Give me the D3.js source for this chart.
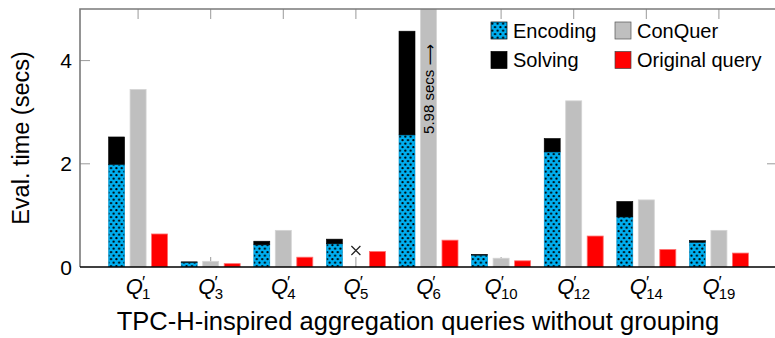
<!DOCTYPE html>
<html>
<head>
<meta charset="utf-8">
<script src="https://cdn.jsdelivr.net/npm/d3@7"></script>
<style>
  body { margin: 0; background: #fff; }
  svg { display: block; font-family: "Liberation Sans", Arial, sans-serif; }
</style>
</head>
<body>
<svg width="775" height="338"></svg>
<script>
// Data (secs)
const queries  = ['1', '3', '4', '5', '6', '10', '12', '14', '19'];
const encoding = [1.99, 0.09, 0.43, 0.45, 2.56, 0.23, 2.23, 0.97, 0.48];
const solving  = [0.53, 0.01, 0.07, 0.09, 2.01, 0.01, 0.26, 0.30, 0.03];
const conquer  = [3.44, 0.11, 0.71, null, 5.98, 0.17, 3.22, 1.30, 0.71];
const original = [0.64, 0.065, 0.19, 0.30, 0.52, 0.12, 0.60, 0.34, 0.27];
const yTicks   = [0, 2, 4];

const svg = d3.select('svg');
const margin = {top: 9, right: -2, bottom: 71, left: 80};
const width = +svg.attr('width') - margin.left - margin.right;
const height = +svg.attr('height') - margin.top - margin.bottom;

const x = d3.scalePoint().domain(queries).range([0, width]).padding(0.8);
const y = d3.scaleLinear().domain([0, 5]).range([height, 0]);
const barW = 16, off = 21.5;

// dotted pattern for the encoding bars
const defs = svg.append('defs');
const pat = defs.append('pattern')
  .attr('id', 'dots').attr('patternUnits', 'userSpaceOnUse')
  .attr('width', 5.4).attr('height', 7);
pat.append('rect').attr('width', 5.4).attr('height', 7).attr('fill', '#00aeef');
pat.append('circle').attr('cx', 1.3).attr('cy', 1.7).attr('r', 1.1).attr('fill', '#000');
pat.append('circle').attr('cx', 4.0).attr('cy', 5.2).attr('r', 1.1).attr('fill', '#000');

defs.append('clipPath').attr('id', 'plot-clip')
  .append('rect').attr('width', width).attr('height', height);

const g = svg.append('g').attr('transform', `translate(${margin.left},${margin.top})`);

// frame ticks (drawn behind the bars)
const ticks = g.append('g').attr('stroke', '#9a9a9a').attr('stroke-width', 1);
queries.forEach(q => {
  ticks.append('line').attr('x1', x(q)).attr('x2', x(q)).attr('y1', 0).attr('y2', 10);
  ticks.append('line').attr('x1', x(q)).attr('x2', x(q)).attr('y1', height).attr('y2', height - 10);
});
yTicks.filter(t => t > 0).forEach(t => {
  ticks.append('line').attr('x1', 0).attr('x2', 10).attr('y1', y(t)).attr('y2', y(t));
  ticks.append('line').attr('x1', width).attr('x2', width - 10).attr('y1', y(t)).attr('y2', y(t));
});

const rows = queries.map((q, i) => ({
  q, enc: encoding[i], sol: solving[i], con: conquer[i], orig: original[i]
}));

const bars = g.append('g').attr('clip-path', 'url(#plot-clip)');

// encoding + solving stacked
bars.selectAll('.enc').data(rows).enter().append('rect')
  .attr('class', 'enc')
  .attr('x', d => x(d.q) - off - barW / 2).attr('width', barW)
  .attr('y', d => y(d.enc)).attr('height', d => y(0) - y(d.enc))
  .attr('fill', 'url(#dots)').attr('stroke', '#0090c8').attr('stroke-width', 0.6);
bars.selectAll('.sol').data(rows).enter().append('rect')
  .attr('class', 'sol')
  .attr('x', d => x(d.q) - off - barW / 2).attr('width', barW)
  .attr('y', d => y(d.enc + d.sol)).attr('height', d => y(d.enc) - y(d.enc + d.sol))
  .attr('fill', '#000').attr('stroke', '#000').attr('stroke-width', 0.6);

// ConQuer
bars.selectAll('.con').data(rows.filter(d => d.con != null)).enter().append('rect')
  .attr('class', 'con')
  .attr('x', d => x(d.q) - barW / 2).attr('width', barW)
  .attr('y', d => y(d.con)).attr('height', d => y(0) - y(d.con))
  .attr('fill', '#bfbfbf').attr('stroke', '#d4d4d4').attr('stroke-width', 0.8);

// original query
bars.selectAll('.orig').data(rows).enter().append('rect')
  .attr('class', 'orig')
  .attr('x', d => x(d.q) + off - barW / 2).attr('width', barW)
  .attr('y', d => y(d.orig)).attr('height', d => y(0) - y(d.orig))
  .attr('fill', '#ff0000').attr('stroke', '#ff7070').attr('stroke-width', 0.8);

// missing ConQuer result
rows.filter(d => d.con == null).forEach(d => {
  const cx = x(d.q), cy = height - 16.5, s = 4.5;
  g.append('path')
    .attr('d', `M${cx - s},${cy - s}L${cx + s},${cy + s}M${cx - s},${cy + s}L${cx + s},${cy - s}`)
    .attr('stroke', '#222').attr('stroke-width', 1.2).attr('fill', 'none');
});

// off-scale note
rows.filter(d => d.con > y.domain()[1]).forEach(d => {
  const t = g.append('text')
    .attr('transform', `translate(${x(d.q) + 5.5},${y(2.56) - 1}) rotate(-90)`)
    .attr('font-size', 15).attr('fill', '#000');
  t.append('tspan').text(`${d.con} secs `);
  t.append('tspan').attr('font-family', '"DejaVu Sans", sans-serif')
    .attr('font-size', 15).attr('dy', 0.5).text('\u27f6');
});

// frame
g.append('path')
  .attr('d', `M0,${height}V0H${width}V${height}`)
  .attr('fill', 'none').attr('stroke', '#7a7a7a').attr('stroke-width', 1.6);
g.append('line').attr('x1', 0).attr('x2', width).attr('y1', height).attr('y2', height)
  .attr('stroke', '#000').attr('stroke-width', 1.6);

// y tick labels
g.selectAll('.ylab').data(yTicks).enter().append('text')
  .attr('x', -8).attr('y', d => y(d)).attr('dy', '0.36em')
  .attr('text-anchor', 'end').attr('font-size', 21).text(d => d);

// x tick labels Q'_n
const xl = g.selectAll('.xlab').data(queries).enter().append('text')
  .attr('x', d => x(d)).attr('y', height + 27)
  .attr('text-anchor', 'middle').attr('font-size', 22);
xl.append('tspan').attr('font-style', 'italic').text('Q');
xl.append('tspan').attr('font-size', 17).attr('dx', -1).attr('dy', -6).text('\u2032');
xl.append('tspan').attr('font-size', 15).attr('dx', -3).attr('dy', 11).text(d => d);

// axis titles
svg.append('text')
  .attr('transform', `translate(${margin.left - 51},${margin.top + height / 2}) rotate(-90)`)
  .attr('text-anchor', 'middle').attr('font-size', 23.5).text('Eval. time (secs)');
svg.append('text')
  .attr('x', margin.left + 338).attr('y', 330)
  .attr('text-anchor', 'middle').attr('font-size', 25.5)
  .text('TPC-H-inspired aggregation queries without grouping');

// legend
const legendItems = [
  {label: 'Encoding', fill: 'url(#dots)', stroke: '#000', col: 0, row: 0},
  {label: 'Solving', fill: '#000', stroke: '#000', col: 0, row: 1},
  {label: 'ConQuer', fill: '#bfbfbf', stroke: '#555', col: 1, row: 0},
  {label: 'Original query', fill: '#ff0000', stroke: '#444', col: 1, row: 1}
];
const legend = svg.append('g').attr('transform', 'translate(486,19)');
legend.append('rect').attr('width', 292).attr('height', 58).attr('fill', '#fff');
const li = legend.selectAll('.li').data(legendItems).enter().append('g')
  .attr('transform', d => `translate(${5 + d.col * 124},${3 + d.row * 29.5})`);
li.append('rect').attr('width', 16).attr('height', 17)
  .attr('fill', d => d.fill).attr('stroke', d => d.stroke).attr('stroke-width', 0.7);
li.append('text').attr('x', 22).attr('y', 8.5).attr('dy', '0.36em')
  .attr('font-size', 20).text(d => d.label);
</script>
</body>
</html>
